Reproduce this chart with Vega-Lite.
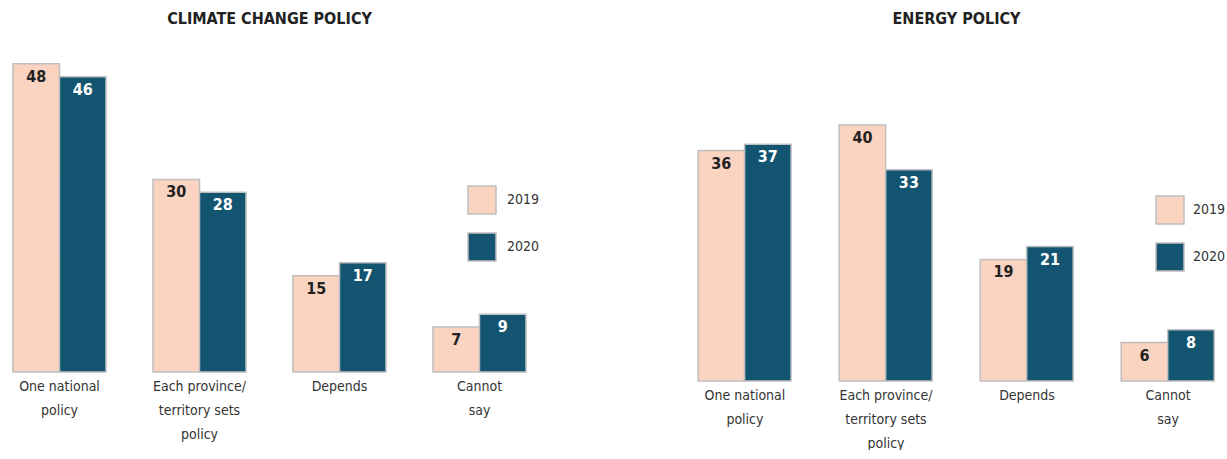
{
  "$schema": "https://vega.github.io/schema/vega-lite/v6.json",
  "padding": {"top": 11, "left": 0, "right": 0, "bottom": 0},
  "background": "white",
  "config": {
    "view": {"stroke": null},
    "font": "Liberation Sans Narrow, DejaVu Sans Condensed, sans-serif",
    "concat": {"spacing": 145}
  },
  "data": {
    "values": [
      {"policy": "Climate change policy", "response": "One national policy", "year": "2019", "value": 48},
      {"policy": "Climate change policy", "response": "One national policy", "year": "2020", "value": 46},
      {"policy": "Climate change policy", "response": "Each province/territory sets policy", "year": "2019", "value": 30},
      {"policy": "Climate change policy", "response": "Each province/territory sets policy", "year": "2020", "value": 28},
      {"policy": "Climate change policy", "response": "Depends", "year": "2019", "value": 15},
      {"policy": "Climate change policy", "response": "Depends", "year": "2020", "value": 17},
      {"policy": "Climate change policy", "response": "Cannot say", "year": "2019", "value": 7},
      {"policy": "Climate change policy", "response": "Cannot say", "year": "2020", "value": 9},
      {"policy": "Energy policy", "response": "One national policy", "year": "2019", "value": 36},
      {"policy": "Energy policy", "response": "One national policy", "year": "2020", "value": 37},
      {"policy": "Energy policy", "response": "Each province/territory sets policy", "year": "2019", "value": 40},
      {"policy": "Energy policy", "response": "Each province/territory sets policy", "year": "2020", "value": 33},
      {"policy": "Energy policy", "response": "Depends", "year": "2019", "value": 19},
      {"policy": "Energy policy", "response": "Depends", "year": "2020", "value": 21},
      {"policy": "Energy policy", "response": "Cannot say", "year": "2019", "value": 6},
      {"policy": "Energy policy", "response": "Cannot say", "year": "2020", "value": 8}
    ]
  },
  "resolve": {"legend": {"color": "independent"}},
  "hconcat": [
    {
      "title": {"text": "CLIMATE CHANGE POLICY", "fontSize": 16, "fontWeight": "bold", "color": "#222", "anchor": "middle", "offset": 24},
      "width": 539,
      "height": 321,
      "transform": [{"filter": "datum.policy == 'Climate change policy'"}],
      "encoding": {
        "x": {
          "field": "response", "type": "nominal",
          "sort": ["One national policy", "Each province/territory sets policy", "Depends", "Cannot say"],
          "scale": {"paddingInner": 0.336, "paddingOuter": 0.093},
          "axis": {
            "title": null, "labelAngle": 0, "domain": false, "ticks": false,
            "labelFontSize": 14, "labelColor": "#333", "labelLineHeight": 24, "labelPadding": 7,
            "labelExpr": "datum.value == 'One national policy' ? ['One national','policy'] : datum.value == 'Each province/territory sets policy' ? ['Each province/','territory sets','policy'] : datum.value == 'Cannot say' ? ['Cannot','say'] : datum.value"
          }
        },
        "xOffset": {"field": "year", "type": "nominal", "scale": {"paddingInner": 0}},
        "y": {"field": "value", "type": "quantitative", "scale": {"domain": [0, 50], "nice": false}, "axis": null}
      },
      "layer": [
        {
          "mark": {"type": "bar", "stroke": "#bfbfbf", "strokeWidth": 1.5},
          "encoding": {
            "color": {
              "field": "year", "type": "nominal",
              "scale": {"domain": ["2019", "2020"], "range": ["#fbd3c1", "#135570"]},
              "legend": {"orient": "none", "legendX": 467, "legendY": 134, "title": null, "symbolType": "square", "symbolSize": 784, "symbolStrokeColor": "#bfbfbf", "symbolStrokeWidth": 1.5, "labelFontSize": 14, "labelColor": "#333", "labelOffset": 10, "rowPadding": 13}
            }
          }
        },
        {
          "mark": {"type": "text", "baseline": "top", "dy": 5, "fontSize": 16, "fontWeight": "bold"},
          "encoding": {
            "text": {"field": "value", "type": "quantitative"},
            "color": {"condition": {"test": "datum.year == '2020'", "value": "white"}, "value": "#222"}
          }
        }
      ]
    },
    {
      "title": {"text": "ENERGY POLICY", "fontSize": 16, "fontWeight": "bold", "color": "#222", "anchor": "middle", "offset": 24},
      "width": 543,
      "height": 330,
      "transform": [{"filter": "datum.policy == 'Energy policy'"}],
      "encoding": {
        "x": {
          "field": "response", "type": "nominal",
          "sort": ["One national policy", "Each province/territory sets policy", "Depends", "Cannot say"],
          "scale": {"paddingInner": 0.336, "paddingOuter": 0.093},
          "axis": {
            "title": null, "labelAngle": 0, "domain": false, "ticks": false,
            "labelFontSize": 14, "labelColor": "#333", "labelLineHeight": 24, "labelPadding": 7,
            "labelExpr": "datum.value == 'One national policy' ? ['One national','policy'] : datum.value == 'Each province/territory sets policy' ? ['Each province/','territory sets','policy'] : datum.value == 'Cannot say' ? ['Cannot','say'] : datum.value"
          }
        },
        "xOffset": {"field": "year", "type": "nominal", "scale": {"paddingInner": 0}},
        "y": {"field": "value", "type": "quantitative", "scale": {"domain": [0, 51.56], "nice": false}, "axis": null}
      },
      "layer": [
        {
          "mark": {"type": "bar", "stroke": "#bfbfbf", "strokeWidth": 1.5},
          "encoding": {
            "color": {
              "field": "year", "type": "nominal",
              "scale": {"domain": ["2019", "2020"], "range": ["#fbd3c1", "#135570"]},
              "legend": {"orient": "none", "legendX": 470, "legendY": 144, "title": null, "symbolType": "square", "symbolSize": 784, "symbolStrokeColor": "#bfbfbf", "symbolStrokeWidth": 1.5, "labelFontSize": 14, "labelColor": "#333", "labelOffset": 8, "rowPadding": 13}
            }
          }
        },
        {
          "mark": {"type": "text", "baseline": "top", "dy": 5, "fontSize": 16, "fontWeight": "bold"},
          "encoding": {
            "text": {"field": "value", "type": "quantitative"},
            "color": {"condition": {"test": "datum.year == '2020'", "value": "white"}, "value": "#222"}
          }
        }
      ]
    }
  ]
}
